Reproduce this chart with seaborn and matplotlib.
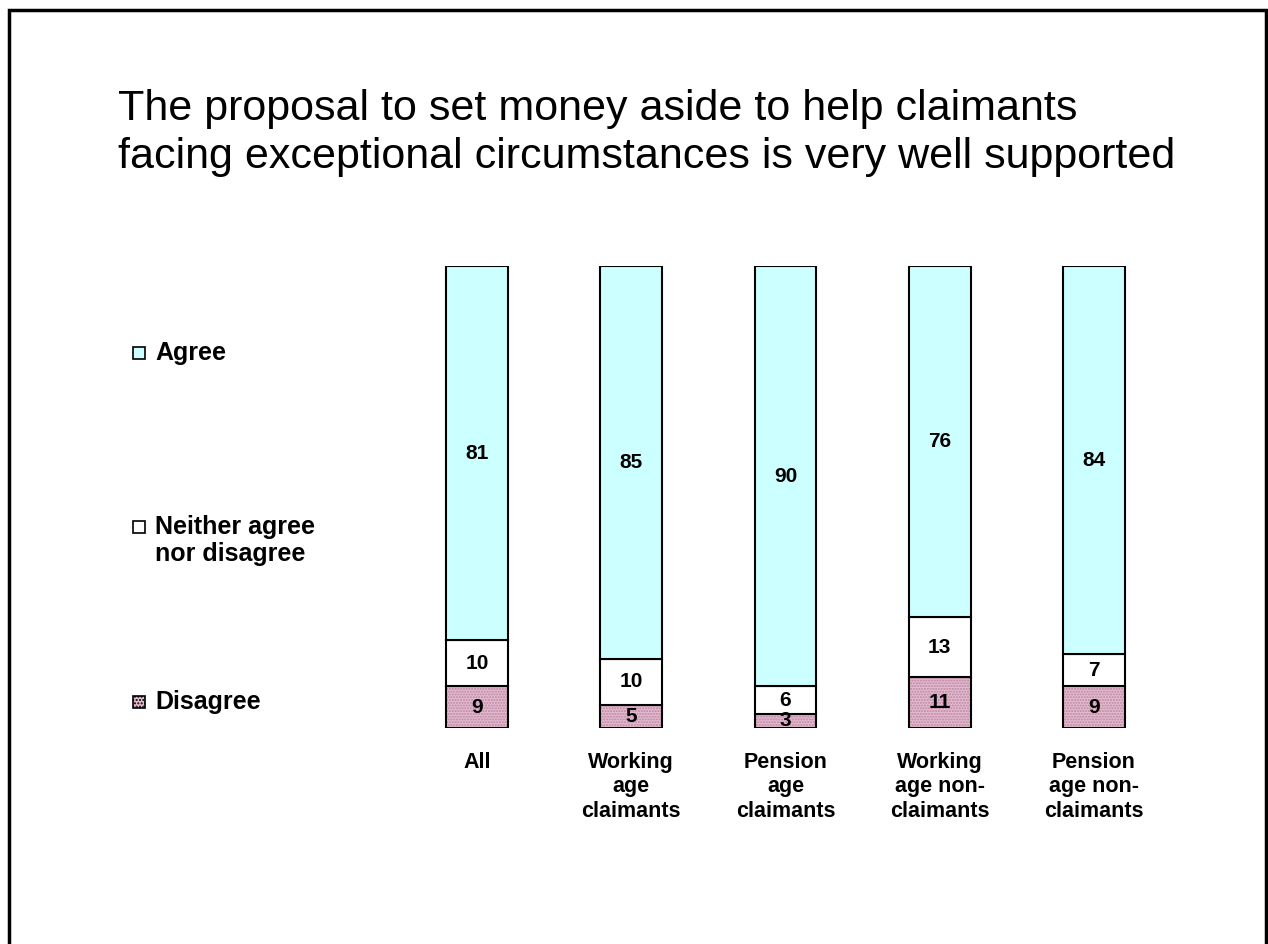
"""
Stacked 100% bar chart: support for setting money aside for exceptional circumstances.
"""

import numpy as np
import pandas as pd
import matplotlib
matplotlib.use("Agg")
import matplotlib.pyplot as plt
from matplotlib.patches import Rectangle
import seaborn as sns

groups = ["All", "Working\nage\nclaimants", "Pension\nage\nclaimants",
          "Working\nage non-\nclaimants", "Pension\nage non-\nclaimants"]
disagree = [9, 5, 3, 11, 9]
neither = [10, 10, 6, 13, 7]
agree = [81, 85, 90, 76, 84]

title = ("The proposal to set money aside to help claimants\n"
         "facing exceptional circumstances is very well supported")

AGREE_COL = "#CCFFFF"
NEITHER_COL = "#FFFFFF"
DISAGREE_COL = "#E3BCD0"
DISAGREE_DOT = "#BC83A0"

sns.set_style("white")
plt.rcParams["font.family"] = ["Liberation Sans", "DejaVu Sans"]
plt.rcParams["text.color"] = "black"
plt.rcParams["xtick.color"] = "black"
plt.rcParams["hatch.linewidth"] = 1.0

df = pd.DataFrame({"group": groups, "Disagree": disagree,
                   "Neither": neither, "Agree": agree})
total = df[["Disagree", "Neither", "Agree"]].sum(axis=1)
for col in ["Disagree", "Neither", "Agree"]:
    df[col + "_pct"] = df[col] / total * 100

fig = plt.figure(figsize=(12.68, 9.44), dpi=100)
ax = fig.add_axes([400 / 1268, 1 - 728 / 944, 771 / 1268, 462 / 944])

# disagree: dotted fill first, then outline
sns.barplot(data=df, x="group", y="Disagree_pct", ax=ax, color=DISAGREE_COL,
            width=0.4, hatch="......", edgecolor=DISAGREE_DOT, linewidth=0,
            saturation=1)
sns.barplot(data=df, x="group", y="Disagree_pct", ax=ax, fill=False,
            width=0.4, edgecolor="black", linewidth=1.5, saturation=1)
sns.barplot(data=df, x="group", y="Neither_pct", ax=ax, color=NEITHER_COL,
            bottom=df["Disagree_pct"], width=0.4, edgecolor="black",
            linewidth=1.5, saturation=1)
sns.barplot(data=df, x="group", y="Agree_pct", ax=ax, color=AGREE_COL,
            bottom=df["Disagree_pct"] + df["Neither_pct"], width=0.4,
            edgecolor="black", linewidth=1.5, saturation=1)

# value labels in the middle of each segment
base = np.zeros(len(df))
for col in ["Disagree", "Neither", "Agree"]:
    pct = df[col + "_pct"].values
    for i, (v, p) in enumerate(zip(df[col].values, pct)):
        ax.text(i, base[i] + p / 2, str(v), ha="center", va="center",
                fontsize=15, fontweight="bold", color="black")
    base = base + pct

ax.set_xlim(-0.5, len(groups) - 0.5)
ax.set_ylim(0, 100)
ax.set_xlabel("")
ax.set_ylabel("")
ax.set_yticks([])
ax.tick_params(axis="x", length=0, pad=17, labelsize=15.5)
for lbl in ax.get_xticklabels():
    lbl.set_fontweight("bold")
    lbl.set_linespacing(1.22)
sns.despine(ax=ax, left=True, bottom=True)

# legend drawn by hand on the left
legend_items = [("Agree", AGREE_COL, 353), ("Neither agree\nnor disagree", NEITHER_COL, 527),
                ("Disagree", DISAGREE_COL, 702)]
for label, col, ypix in legend_items:
    sq = Rectangle((133 / 1268, 1 - (ypix + 6) / 944), 12 / 1268, 12 / 944,
                   transform=fig.transFigure, facecolor=col, edgecolor="black",
                   linewidth=1.2, hatch="....." if label == "Disagree" else None)
    fig.patches.append(sq)
    fig.text(155 / 1268, 1 - (ypix - 12) / 944, label, ha="left", va="top",
             fontsize=18, fontweight="bold", linespacing=1.15)

fig.text(118 / 1268, 1 - 89 / 944, title, ha="left", va="top",
         fontsize=31, linespacing=1.25)

# slide frame
frame = Rectangle((9 / 1268, -0.05), 1257 / 1268, 1.05 - 10 / 944,
                  transform=fig.transFigure, fill=False, edgecolor="black",
                  linewidth=2.5)
fig.patches.append(frame)

fig.savefig("out.png", dpi=100, facecolor="white")
